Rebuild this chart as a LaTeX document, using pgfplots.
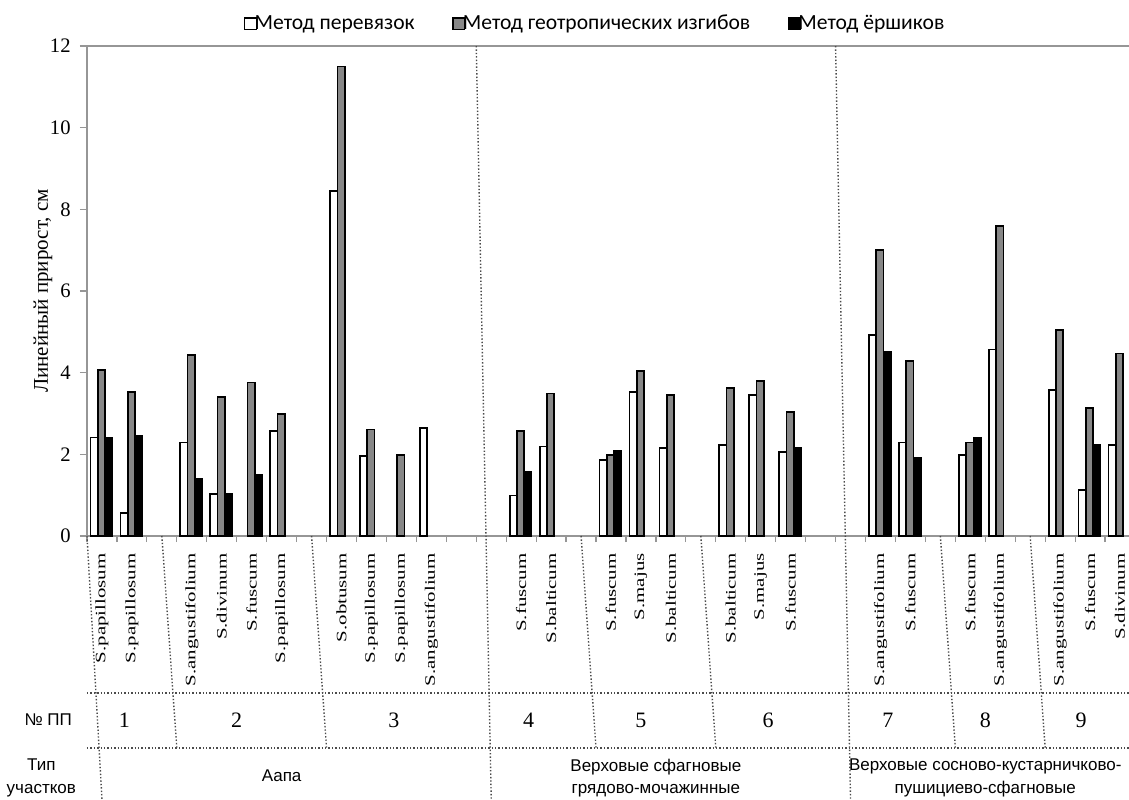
\documentclass[border=0pt]{standalone}
\usepackage{fontspec}
\setmainfont{Liberation Serif}
\newfontfamily\sansf{Liberation Sans}
\newfontfamily\legf{Carlito}
\usepackage{graphicx}
\usepackage{pgfplots}
\pgfplotsset{compat=1.18}

\definecolor{axgray}{RGB}{150,150,150}
\definecolor{bargray}{RGB}{135,135,135}
\definecolor{sepcol}{RGB}{75,75,75}

\newcommand\lbl[1]{\scalebox{1.45}[1]{#1}}

\pgfplotsset{
  sqlegend/.style={legend image code/.code={\draw[##1, line width=0.7pt] (0pt,-2.9pt) rectangle (5.8pt,2.9pt);}},
}
\tikzset{sepdot/.style={draw=sepcol, line width=0.7pt, densely dotted}}

\begin{document}
\begin{tikzpicture}
\path[use as bounding box] (-43.5pt,-131.5pt) rectangle (521pt,268pt);
\begin{axis}[
  at={(0pt,0pt)}, anchor=south west,
  scale only axis, width=521pt, height=245pt,
  xmin=-0.5, xmax=34.3, ymin=0, ymax=12,
  clip=false,
  axis x line*=bottom, axis y line*=left,
  axis line style={draw=axgray, line width=0.8pt},
  tick align=outside,
  ytick={0,2,...,12},
  ytick style={draw=axgray, line width=0.8pt},
  major tick length=3.5pt,
  minor tick length=3pt,
  xtick={0,1,3,4,5,6,8,9,10,11,14,15,17,18,19,21,22,23,26,27,29,30,32,33,34},
  xticklabels={\lbl{S.papillosum},\lbl{S.papillosum},\lbl{S.angustifolium},\lbl{S.divinum},\lbl{S.fuscum},\lbl{S.papillosum},
    \lbl{S.obtusum},\lbl{S.papillosum},\lbl{S.papillosum},\lbl{S.angustifolium},
    \lbl{S.fuscum},\lbl{S.balticum},\lbl{S.fuscum},\lbl{S.majus},\lbl{S.balticum},\lbl{S.balticum},\lbl{S.majus},\lbl{S.fuscum},
    \lbl{S.angustifolium},\lbl{S.fuscum},\lbl{S.fuscum},\lbl{S.angustifolium},\lbl{S.angustifolium},\lbl{S.fuscum},\lbl{S.divinum}},
  minor xtick={-0.5,0.5,...,33.5},
  major x tick style={draw=none},
  minor x tick style={draw=axgray, line width=0.6pt},
  xticklabel style={rotate=90, anchor=east, inner sep=0pt, font=\fontsize{7.2pt}{8pt}\selectfont},
  xticklabel shift=5pt,
  yticklabel style={anchor=east, inner sep=0pt, font=\fontsize{10.3pt}{12pt}\selectfont},
  yticklabel shift=4.5pt,
  /pgf/number format/assume math mode=true,
  ybar, bar width=3.65pt,
  legend columns=3,
  legend cell align=left,
  legend style={at={(0.4875,1.045)}, anchor=center, draw=none, fill=none,
    font=\legf\fontsize{10.8pt}{12pt}\selectfont, nodes={inner sep=0.8pt},
    /tikz/every odd column/.append style={column sep=-2pt},
    /tikz/every even column/.append style={column sep=18pt}},
]
\addplot[draw=black, fill=white, line width=0.85pt, bar shift=-3.9pt, sqlegend] table {
x y
0 2.41
1 0.57
3 2.29
4 1.03
6 2.57
8 8.45
9 1.96
11 2.65
14 0.99
15 2.19
17 1.86
18 3.53
19 2.15
21 2.23
22 3.45
23 2.06
26 4.92
27 2.29
29 1.98
30 4.57
32 3.58
33 1.13
34 2.23
};
\addlegendentry{Метод перевязок}
\addplot[draw=black, fill=bargray, line width=0.85pt, bar shift=-0.25pt, sqlegend] table {
x y
0 4.07
1 3.53
3 4.43
4 3.41
5 3.76
6 2.99
8 11.50
9 2.61
10 1.98
14 2.57
15 3.49
17 1.98
18 4.04
19 3.45
21 3.62
22 3.80
23 3.03
26 7.00
27 4.29
29 2.29
30 7.59
32 5.05
33 3.14
34 4.47
};
\addlegendentry{Метод геотропических изгибов}
\addplot[draw=black, fill=black, line width=0.85pt, bar shift=3.4pt, sqlegend] table {
x y
0 2.41
1 2.45
3 1.41
4 1.03
5 1.49
14 1.56
17 2.09
23 2.15
26 4.50
27 1.92
29 2.41
33 2.23
};
\addlegendentry{Метод ёршиков}

% top border
\draw[draw=axgray, line width=0.8pt] (rel axis cs:0,1) -- (rel axis cs:1,1);

% full-height separators
\draw[sepdot] (axis cs:-0.5,0) -- ++(0,-131.5pt);
\draw[sepdot] (axis cs:12.5,12) -- ++(0,-376.5pt);
\draw[sepdot] (axis cs:24.5,12) -- ++(0,-376.5pt);
% plot separators
\draw[sepdot] (axis cs:2,0) -- ++(0,-106pt);
\draw[sepdot] (axis cs:7,0) -- ++(0,-106pt);
\draw[sepdot] (axis cs:16,0) -- ++(0,-106pt);
\draw[sepdot] (axis cs:20,0) -- ++(0,-106pt);
\draw[sepdot] (axis cs:28,0) -- ++(0,-106pt);
\draw[sepdot] (axis cs:31,0) -- ++(0,-106pt);
% horizontal rows
\draw[sepdot] ([yshift=-78.5pt]rel axis cs:0,0) -- ([yshift=-78.5pt]rel axis cs:1,0);
\draw[sepdot] ([yshift=-106pt]rel axis cs:0,0) -- ([yshift=-106pt]rel axis cs:1,0);

% plot numbers
\begin{scope}[every node/.style={font=\fontsize{11pt}{13pt}\selectfont}]
\node at ([yshift=-92pt]axis cs:0.75,0) {1};
\node at ([yshift=-92pt]axis cs:4.5,0) {2};
\node at ([yshift=-92pt]axis cs:9.75,0) {3};
\node at ([yshift=-92pt]axis cs:14.25,0) {4};
\node at ([yshift=-92pt]axis cs:18,0) {5};
\node at ([yshift=-92pt]axis cs:22.25,0) {6};
\node at ([yshift=-92pt]axis cs:26.25,0) {7};
\node at ([yshift=-92pt]axis cs:29.5,0) {8};
\node at ([yshift=-92pt]axis cs:32.7,0) {9};
\end{scope}

% types
\begin{scope}[every node/.style={font=\sansf\fontsize{8.5pt}{11.3pt}\selectfont, align=center}]
\node at ([yshift=-120pt]axis cs:6,0) {Аапа};
\node at ([yshift=-121pt]axis cs:18.5,0) {Верховые сфагновые\\грядово-мочажинные};
\node at ([yshift=-121pt]axis cs:29.5,0) {Верховые сосново-кустарничково-\\пушициево-сфагновые};
\node[anchor=east] at ([xshift=-4pt,yshift=-92pt]rel axis cs:0,0) {№ ПП};
\node[anchor=east] at ([xshift=-2pt,yshift=-121pt]rel axis cs:0,0) {Тип\\участков};
\end{scope}

% y label
\node[rotate=90, font=\fontsize{10.5pt}{12pt}\selectfont] at ([xshift=-22pt]rel axis cs:0,0.5) {Линейный прирост, см};
\end{axis}
\end{tikzpicture}
\end{document}
